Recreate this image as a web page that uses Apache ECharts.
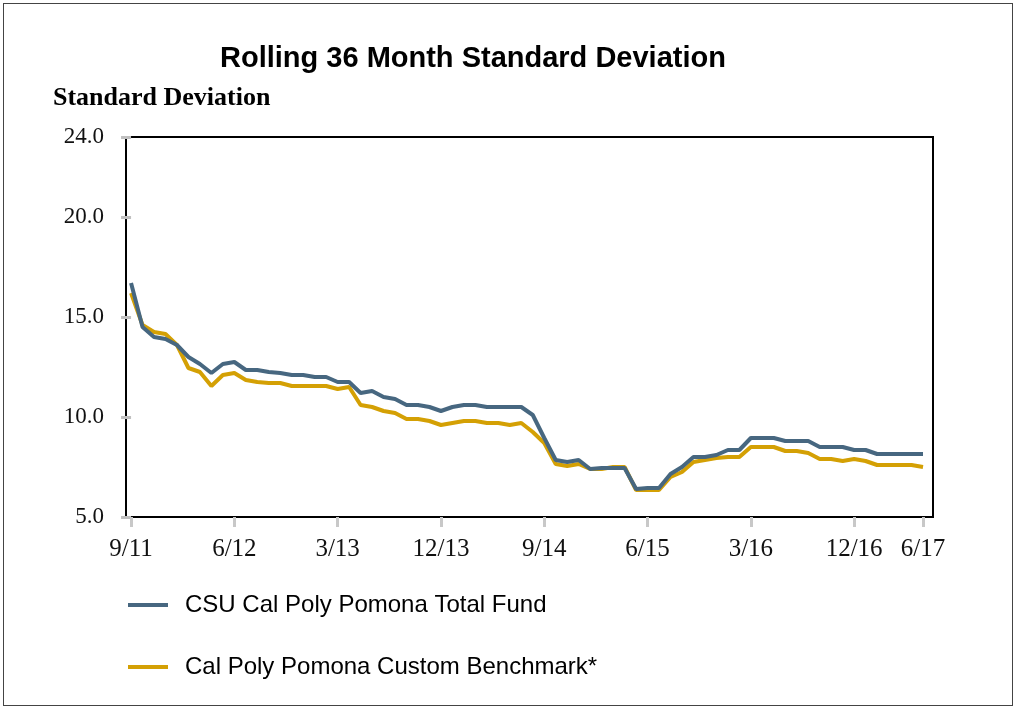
<!DOCTYPE html>
<html>
<head>
<meta charset="utf-8">
<script src="https://cdn.jsdelivr.net/npm/echarts@6/dist/echarts.min.js"></script>
<style>
html,body{margin:0;padding:0;background:#fff;}
#frame{position:absolute;left:3px;top:3px;width:1010px;height:703px;border:1px solid #444;box-sizing:border-box;}
#chart{position:absolute;left:0;top:0;width:1015px;height:710px;}
</style>
</head>
<body>
<div id="frame"></div>
<div id="chart"></div>
<script>
// Monthly periods 9/11 .. 6/17 (70 months)
const months = [
 '9/11','10/11','11/11','12/11','1/12','2/12','3/12','4/12','5/12','6/12','7/12','8/12',
 '9/12','10/12','11/12','12/12','1/13','2/13','3/13','4/13','5/13','6/13','7/13','8/13',
 '9/13','10/13','11/13','12/13','1/14','2/14','3/14','4/14','5/14','6/14','7/14','8/14',
 '9/14','10/14','11/14','12/14','1/15','2/15','3/15','4/15','5/15','6/15','7/15','8/15',
 '9/15','10/15','11/15','12/15','1/16','2/16','3/16','4/16','5/16','6/16','7/16','8/16',
 '9/16','10/16','11/16','12/16','1/17','2/17','3/17','4/17','5/17','6/17'
];
const tickLabels = ['9/11','6/12','3/13','12/13','9/14','6/15','3/16','12/16','6/17'];
const yTicks = [5, 10, 15, 20, 24];
const seriesNames = ['CSU Cal Poly Pomona Total Fund', 'Cal Poly Pomona Custom Benchmark*'];
const totalFund = [
 16.7,14.5,14.0,13.9,13.6,13.0,12.65,12.2,12.65,12.75,12.35,12.35,
 12.25,12.2,12.1,12.1,12.0,12.0,11.75,11.75,11.2,11.3,11.0,10.9,
 10.6,10.6,10.5,10.3,10.5,10.6,10.6,10.5,10.5,10.5,10.5,10.1,
 8.95,7.85,7.75,7.85,7.4,7.45,7.45,7.45,6.4,6.45,6.45,7.15,
 7.5,8.0,8.0,8.1,8.35,8.35,8.95,8.95,8.95,8.8,8.8,8.8,
 8.5,8.5,8.5,8.35,8.35,8.15,8.15,8.15,8.15,8.15
];
const benchmark = [
 16.2,14.6,14.25,14.15,13.6,12.45,12.25,11.55,12.1,12.2,11.85,11.75,
 11.7,11.7,11.55,11.55,11.55,11.55,11.4,11.5,10.6,10.5,10.3,10.2,
 9.9,9.9,9.8,9.6,9.7,9.8,9.8,9.7,9.7,9.6,9.7,9.25,
 8.7,7.65,7.55,7.65,7.4,7.4,7.5,7.5,6.35,6.35,6.35,7.0,
 7.25,7.75,7.85,7.95,8.0,8.0,8.5,8.5,8.5,8.3,8.3,8.2,
 7.9,7.9,7.8,7.9,7.8,7.6,7.6,7.6,7.6,7.5
];

const tickIdx = tickLabels.map(l => months.indexOf(l));
const toPairs = arr => arr.map((v, i) => [i, v]);

const chart = echarts.init(document.getElementById('chart'));
chart.setOption({
  animation: false,
  backgroundColor: 'transparent',
  title: {
    text: 'Rolling 36 Month Standard Deviation',
    left: 215, top: 39,
    textStyle: {fontFamily: 'Liberation Sans', fontWeight: 'bold', fontSize: 29, color: '#000'}
  },
  graphic: [{
    type: 'text', left: 53, top: 85,
    style: {text: 'Standard Deviation', font: 'bold 26px "Liberation Serif"', fill: '#000'}
  }],
  grid: {
    left: 126, right: 82, top: 137, bottom: 193,
    show: true, borderColor: '#000', borderWidth: 2, backgroundColor: 'transparent'
  },
  legend: {
    orient: 'vertical', left: 123, top: 588,
    itemWidth: 40, itemHeight: 4, itemGap: 38,
    icon: 'rect',
    textStyle: {fontFamily: 'Liberation Sans', fontSize: 24, color: '#000', padding: [0,0,0,12]},
    data: seriesNames
  },
  xAxis: {
    type: 'value', min: -0.44, max: 69.87,
    axisLine: {show: false},
    splitLine: {show: false},
    axisTick: {show: true, length: 10, customValues: tickIdx, lineStyle: {color: '#c8c8c8', width: 3}},
    axisLabel: {
      customValues: tickIdx, margin: 20,
      formatter: v => months[Math.round(v)],
      fontFamily: 'Liberation Serif', fontSize: 25, color: '#111'
    }
  },
  yAxis: {
    type: 'value', min: 5, max: 24,
    axisLine: {show: false},
    splitLine: {show: false},
    axisTick: {show: true, length: 10, customValues: yTicks, lineStyle: {color: '#c0c0c0', width: 3}},
    axisLabel: {
      customValues: yTicks, margin: 22,
      formatter: v => v.toFixed(1),
      fontFamily: 'Liberation Serif', fontSize: 23, color: '#111'
    }
  },
  series: [
    {name: seriesNames[0], type: 'line', data: toPairs(totalFund), showSymbol: false, z: 3,
     lineStyle: {color: '#476780', width: 4}, itemStyle: {color: '#476780'}},
    {name: seriesNames[1], type: 'line', data: toPairs(benchmark), showSymbol: false, z: 2,
     lineStyle: {color: '#d4a004', width: 4}, itemStyle: {color: '#d4a004'}}
  ]
});
</script>
</body>
</html>
